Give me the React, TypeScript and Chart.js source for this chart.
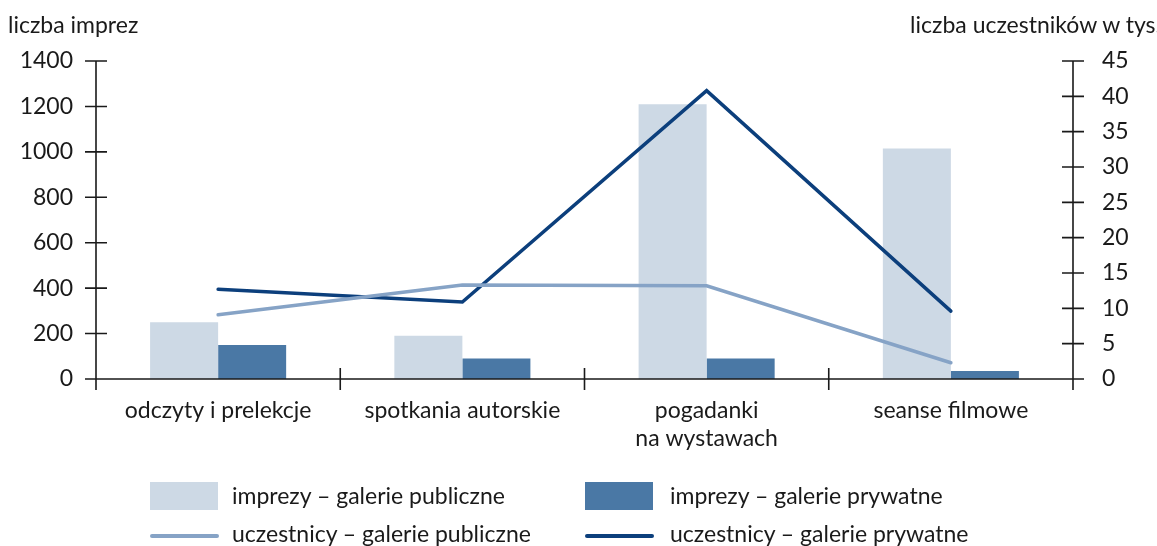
import React, { useEffect, useRef } from "react";
import { Chart, registerables } from "chart.js";

Chart.register(...registerables);

const categories: (string | string[])[] = [
  "odczyty i prelekcje",
  "spotkania autorskie",
  ["pogadanki", "na wystawach"],
  "seanse filmowe",
];
const imprezyPubliczne = [250, 190, 1210, 1015];
const imprezyPrywatne = [150, 90, 90, 35];
const uczestnicyPubliczne = [9.1, 13.3, 13.2, 2.3];
const uczestnicyPrywatne = [12.7, 10.9, 40.8, 9.6];
const leftTicks = [0, 200, 400, 600, 800, 1000, 1200, 1400];
const rightTicks = [0, 5, 10, 15, 20, 25, 30, 35, 40, 45];

const FONT = "Lato, 'Open Sans', sans-serif";
const FS = 23;
const INK = "#1a1a1a";
const C_LIGHT_BAR = "#cdd9e5";
const C_DARK_BAR = "#4a78a5";
const C_LIGHT_LINE = "#86a3c6";
const C_DARK_LINE = "#0c3f7c";

const axesPlugin = {
  id: "customAxes",
  afterDraw(chart: any) {
    const ctx = chart.ctx;
    const { left, right, top, bottom } = chart.chartArea;
    const y = chart.scales.y;
    const y1 = chart.scales.y1;
    const x = chart.scales.x;
    const ext = 11;
    ctx.save();
    ctx.strokeStyle = INK;
    ctx.lineWidth = 1.6;
    ctx.beginPath();
    ctx.moveTo(left, top);
    ctx.lineTo(left, bottom + ext);
    leftTicks.forEach((v) => {
      const py = y.getPixelForValue(v);
      ctx.moveTo(left - ext, py);
      ctx.lineTo(left + ext, py);
    });
    ctx.moveTo(right, top);
    ctx.lineTo(right, bottom + ext);
    rightTicks.forEach((v) => {
      const py = y1.getPixelForValue(v);
      ctx.moveTo(right - ext, py);
      ctx.lineTo(right + ext, py);
    });
    ctx.moveTo(left, bottom);
    ctx.lineTo(right, bottom);
    const n = categories.length;
    for (let i = 0; i < n - 1; i++) {
      const px = (x.getPixelForValue(i) + x.getPixelForValue(i + 1)) / 2;
      ctx.moveTo(px, bottom - ext);
      ctx.lineTo(px, bottom + ext);
    }
    ctx.stroke();
    ctx.restore();
  },
};

export default function App() {
  const ref = useRef<HTMLCanvasElement | null>(null);
  useEffect(() => {
    if (!ref.current) return;
    const chart = new Chart(ref.current, {
      type: "bar",
      data: {
        labels: categories,
        datasets: [
          {
            type: "line",
            label: "uczestnicy – galerie publiczne",
            data: uczestnicyPubliczne,
            yAxisID: "y1",
            borderColor: C_LIGHT_LINE,
            backgroundColor: C_LIGHT_LINE,
            borderWidth: 3.5,
            pointRadius: 0,
            tension: 0,
            borderCapStyle: "round",
            order: 1,
          } as any,
          {
            type: "line",
            label: "uczestnicy – galerie prywatne",
            data: uczestnicyPrywatne,
            yAxisID: "y1",
            borderColor: C_DARK_LINE,
            backgroundColor: C_DARK_LINE,
            borderWidth: 3.5,
            pointRadius: 0,
            tension: 0,
            borderCapStyle: "round",
            order: 2,
          } as any,
          {
            type: "bar",
            label: "imprezy – galerie publiczne",
            data: imprezyPubliczne,
            yAxisID: "y",
            backgroundColor: C_LIGHT_BAR,
            categoryPercentage: 0.557,
            barPercentage: 1,
            order: 3,
          },
          {
            type: "bar",
            label: "imprezy – galerie prywatne",
            data: imprezyPrywatne,
            yAxisID: "y",
            backgroundColor: C_DARK_BAR,
            categoryPercentage: 0.557,
            barPercentage: 1,
            order: 3,
          },
        ],
      },
      options: {
        animation: false,
        responsive: false,
        maintainAspectRatio: false,
        layout: { padding: { top: 61, left: 0, right: 0, bottom: 0 } },
        plugins: {
          legend: { display: false },
          tooltip: { enabled: false },
          title: { display: false },
        },
        scales: {
          x: {
            type: "category",
            offset: true,
            grid: { display: false, drawTicks: false },
            border: { display: false },
            ticks: {
              color: INK,
              font: { family: FONT, size: FS, lineHeight: 1.2 },
              padding: 18,
              maxRotation: 0,
              autoSkip: false,
            },
            afterFit: (s: any) => {
              s.height = 167;
            },
          },
          y: {
            position: "left",
            min: 0,
            max: 1400,
            grid: { display: false, drawTicks: false },
            border: { display: false },
            ticks: {
              stepSize: 200,
              color: INK,
              font: { family: FONT, size: FS },
              padding: 23,
              callback: (v: any) => String(v),
            },
            afterFit: (s: any) => {
              s.width = 96;
            },
          },
          y1: {
            position: "right",
            min: 0,
            max: 45,
            grid: { display: false, drawTicks: false },
            border: { display: false },
            ticks: {
              stepSize: 5,
              color: INK,
              font: { family: FONT, size: FS },
              padding: 29,
              callback: (v: any) => String(v),
            },
            afterFit: (s: any) => {
              s.width = 84;
            },
          },
        },
      } as any,
      plugins: [axesPlugin],
    });
    return () => chart.destroy();
  }, []);

  const textStyle: React.CSSProperties = {
    position: "absolute",
    fontFamily: FONT,
    fontSize: FS,
    color: INK,
    whiteSpace: "nowrap",
    lineHeight: "28px",
  };

  return (
    <div
      style={{
        position: "fixed",
        left: 0,
        top: 0,
        width: 1157,
        height: 546,
        background: "#fff",
        overflow: "hidden",
      }}
    >
      <canvas ref={ref} width={1157} height={546} style={{ position: "absolute", left: 0, top: 0 }} />
      <div style={{ ...textStyle, left: 8, top: 10 }}>liczba imprez</div>
      <div style={{ ...textStyle, right: -4, top: 10 }}>liczba uczestników w tys.</div>
      <div style={{ position: "absolute", left: 150, top: 482, width: 68, height: 28, background: C_LIGHT_BAR }} />
      <div style={{ ...textStyle, left: 232, top: 481 }}>imprezy – galerie publiczne</div>
      <div style={{ position: "absolute", left: 585, top: 482, width: 68, height: 28, background: C_DARK_BAR }} />
      <div style={{ ...textStyle, left: 670, top: 481 }}>imprezy – galerie prywatne</div>
      <div style={{ position: "absolute", left: 150, top: 534, width: 69, height: 4, borderRadius: 2, background: C_LIGHT_LINE }} />
      <div style={{ ...textStyle, left: 232, top: 519 }}>uczestnicy – galerie publiczne</div>
      <div style={{ position: "absolute", left: 585, top: 534, width: 69, height: 4, borderRadius: 2, background: C_DARK_LINE }} />
      <div style={{ ...textStyle, left: 670, top: 519 }}>uczestnicy – galerie prywatne</div>
    </div>
  );
}
